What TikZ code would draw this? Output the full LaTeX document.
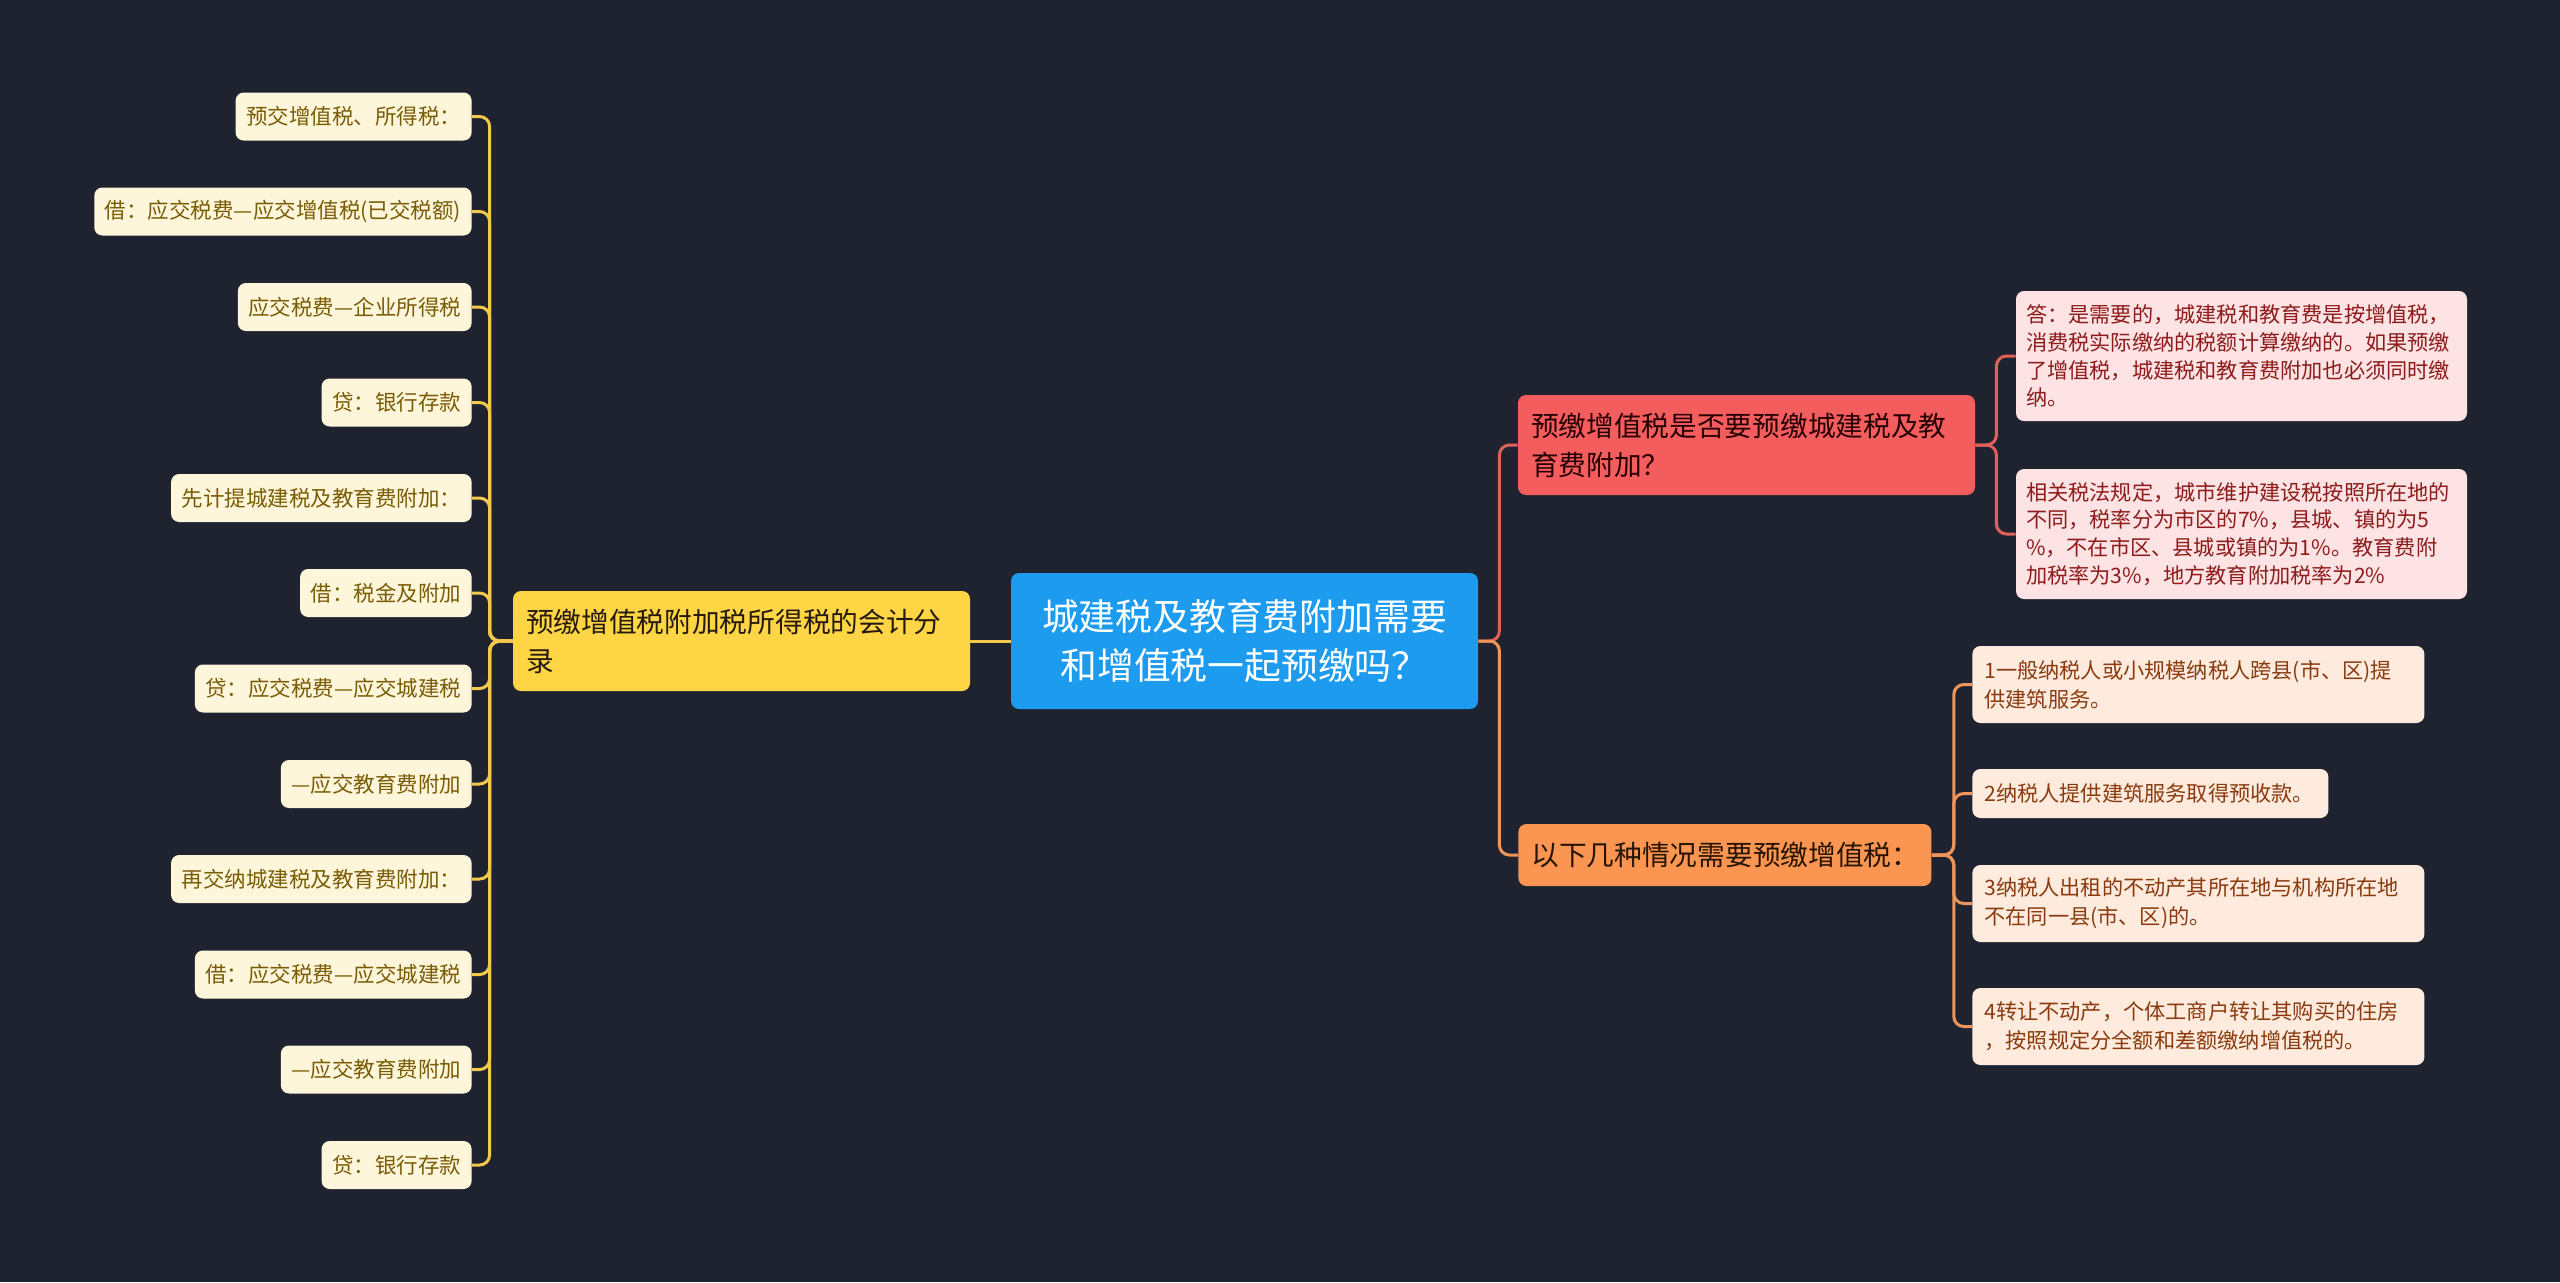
\documentclass[tikz,border=0pt]{standalone}
\usepackage{fontspec}
\newfontfamily\cjk{Noto Sans CJK SC}
\definecolor{bg}{HTML}{1F2330}
\definecolor{cblue}{HTML}{1C9BEF}
\definecolor{cyel}{HTML}{FDD545}
\definecolor{cred}{HTML}{F45D5D}
\definecolor{corg}{HTML}{FA9552}
\definecolor{lyelbg}{HTML}{FDF6DB}
\definecolor{lyeltx}{HTML}{7A5C05}
\definecolor{lredbg}{HTML}{FDE3E3}
\definecolor{lredtx}{HTML}{8E1B1B}
\definecolor{lorgbg}{HTML}{FEEBDE}
\definecolor{lorgtx}{HTML}{8A3A0E}
\definecolor{lnyel}{HTML}{F2C94C}
\definecolor{lnred}{HTML}{E0605A}
\definecolor{lnorg}{HTML}{F0955A}
\begin{document}
\begin{tikzpicture}[x=0.5pt,y=-0.5pt,
  box/.style={rectangle, rounded corners=4pt, inner ysep=0pt},
  centerbox/.style={box, fill=cblue, text=white, font=\cjk\fontsize{18.4}{24.5}\selectfont,
     align=center, minimum width=233.5pt, minimum height=68pt},
  mainbox/.style={box, font=\cjk\fontsize{13.85}{19.5}\selectfont, inner xsep=6.5pt},
  mainY/.style={mainbox, fill=cyel, text=black!80!brown, text width=215.5pt, align=left, minimum height=50pt},
  mainR/.style={mainbox, fill=cred, text=black!85!red, text width=215.5pt, align=left, minimum height=50pt},
  mainO/.style={mainbox, fill=corg, text=black!85!orange, text width=193.5pt, align=left, minimum height=31pt},
  leafL/.style={box, fill=lyelbg, text=lyeltx, font=\cjk\fontsize{10.75}{14}\selectfont,
     inner xsep=5.25pt, minimum height=24pt, anchor=east},
  leafR/.style={box, fill=lredbg, text=lredtx, font=\cjk\fontsize{10.6}{13.9}\selectfont,
     inner xsep=5pt, text width=215.5pt, align=left, minimum height=65pt},
  leafO/.style={box, fill=lorgbg, text=lorgtx, font=\cjk\fontsize{10.6}{14.5}\selectfont,
     inner xsep=6pt, align=left, anchor=west},
  conn/.style={line width=1.5pt, rounded corners=5pt},
  lineY/.style={conn, draw=lnyel},
  lineR/.style={conn, draw=lnred},
  lineO/.style={conn, draw=lnorg}]
\fill[bg] (0,0) rectangle (2560,1282);
\useasboundingbox (0,0) rectangle (2560,1282);

% main nodes
\node[centerbox] (C) at (1244.5,641) {城建税及教育费附加需要\\和增值税一起预缴吗？};
\node[mainY] (Y) at (741.5,641) {预缴增值税附加税所得税的会计分\\录};
\node[mainR] (R) at (1746.5,445) {预缴增值税是否要预缴城建税及教\\育费附加？};
\node[mainO, anchor=west] (O) at (1518,855) {以下几种情况需要预缴增值税：};

% left leaves
\node[leafL] (L1) at (472,116.5) {预交增值税、所得税：};
\node[leafL] (L2) at (472,211.5) {借：应交税费—应交增值税(已交税额)};
\node[leafL] (L3) at (472,307) {应交税费—企业所得税};
\node[leafL] (L4) at (472,402.5) {贷：银行存款};
\node[leafL] (L5) at (472,498) {先计提城建税及教育费附加：};
\node[leafL] (L6) at (472,593) {借：税金及附加};
\node[leafL] (L7) at (472,688.5) {贷：应交税费—应交城建税};
\node[leafL] (L8) at (472,784) {—应交教育费附加};
\node[leafL] (L9) at (472,879) {再交纳城建税及教育费附加：};
\node[leafL] (L10) at (472,974.5) {借：应交税费—应交城建税};
\node[leafL] (L11) at (472,1069.5) {—应交教育费附加};
\node[leafL] (L12) at (472,1165) {贷：银行存款};

% red leaves
\node[leafR] (RC1) at (2241.5,356) {答：是需要的，城建税和教育费是按增值税，\\消费税实际缴纳的税额计算缴纳的。如果预缴\\了增值税，城建税和教育费附加也必须同时缴\\纳。};
\node[leafR] (RC2) at (2241.5,534) {相关税法规定，城市维护建设税按照所在地的\\不同，税率分为市区的7\%，县城、镇的为5\\\%，不在市区、县城或镇的为1\%。教育费附\\加税率为3\%，地方教育附加税率为2\%};

% orange leaves
\node[leafO, text width=214pt, minimum height=38.5pt] (OC1) at (1972,684.5) {1一般纳税人或小规模纳税人跨县(市、区)提\\供建筑服务。};
\node[leafO, text width=166pt, minimum height=24.5pt] (OC2) at (1972,793.5) {2纳税人提供建筑服务取得预收款。};
\node[leafO, text width=214pt, minimum height=38.5pt] (OC3) at (1972,903.5) {3纳税人出租的不动产其所在地与机构所在地\\不在同一县(市、区)的。};
\node[leafO, text width=214pt, minimum height=38.5pt] (OC4) at (1972,1026.5) {4转让不动产，个体工商户转让其购买的住房\\，按照规定分全额和差额缴纳增值税的。};

% connectors
\draw[lineY] (C.west) -- (Y.east);
\foreach \i in {1,...,12} {
  \draw[lineY] (Y.west) -- ++(-23,0) |- (L\i.east);
}
\draw[lineR] (C.east) -- ++(21,0) |- (R.west);
\draw[lineO] (C.east) -- ++(21,0) |- (O.west);
\foreach \i in {1,2} {
  \draw[lineR] (R.east) -- ++(21,0) |- (RC\i.west);
}
\foreach \i in {1,...,4} {
  \draw[lineO] (O.east) -- ++(22,0) |- (OC\i.west);
}
\end{tikzpicture}
\end{document}
